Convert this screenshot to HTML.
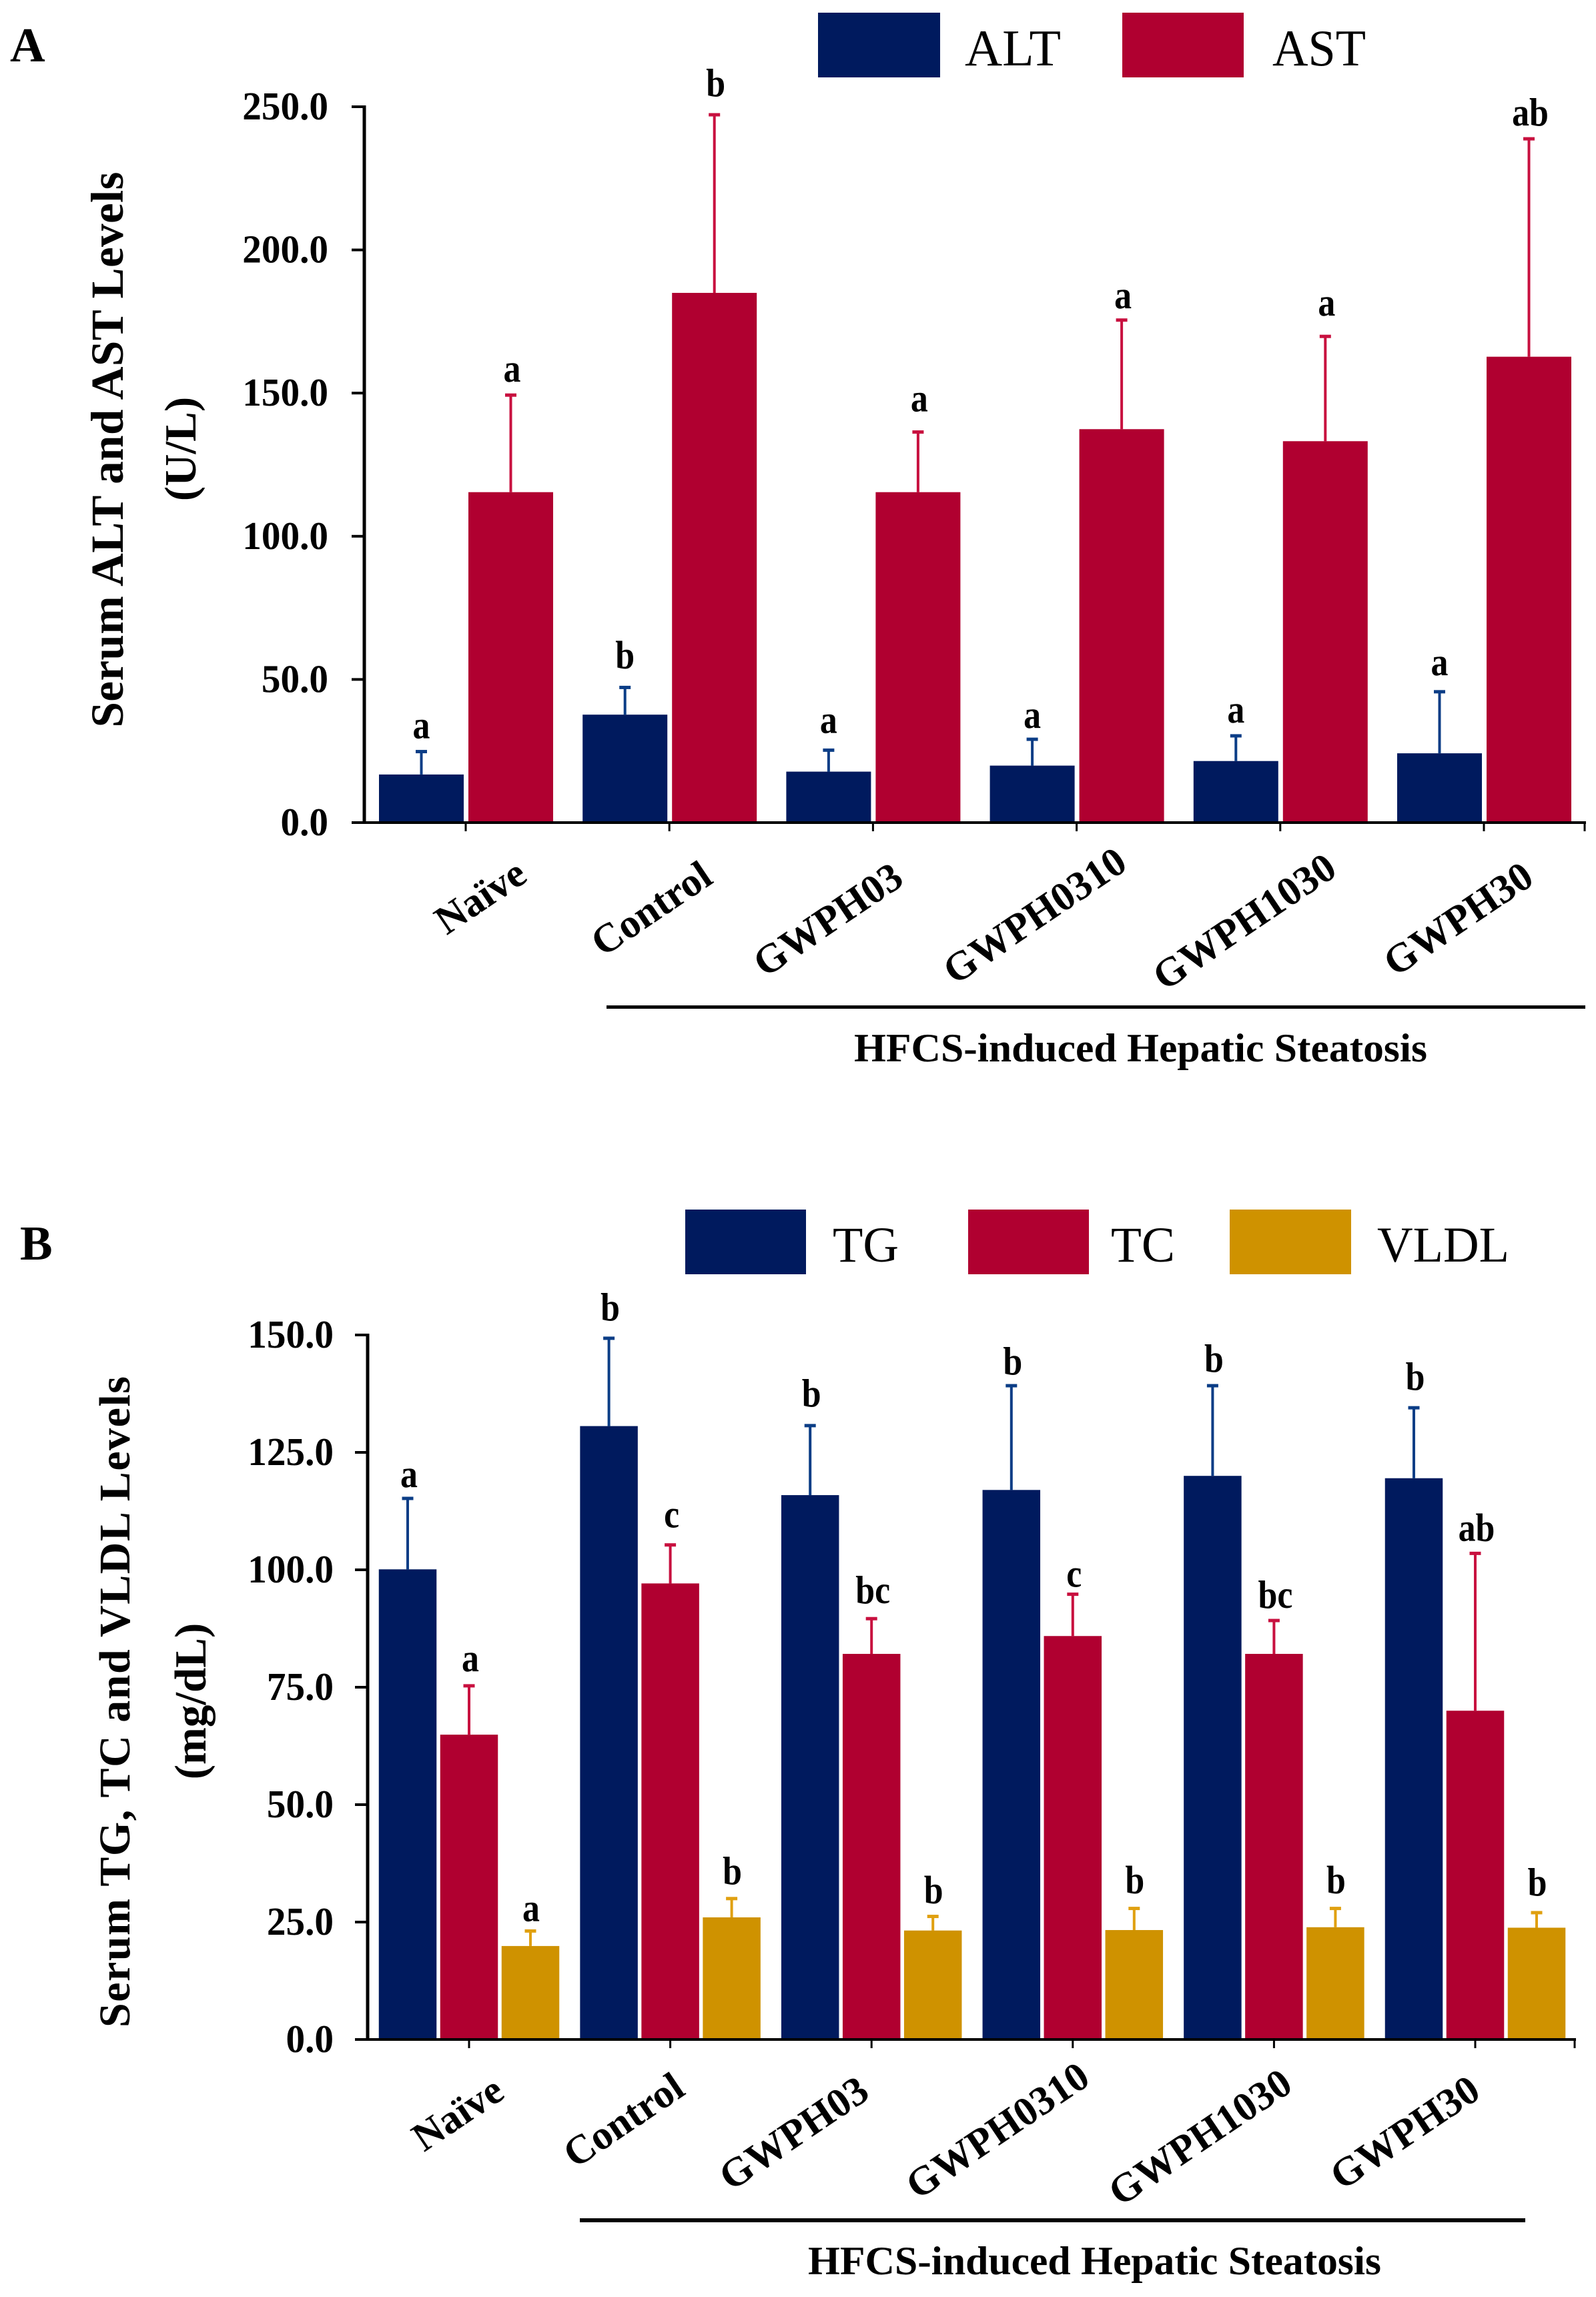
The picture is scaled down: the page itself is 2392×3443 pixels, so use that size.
<!DOCTYPE html>
<html lang="en">
<head>
<meta charset="utf-8">
<title>Serum biomarker bar charts</title>
<style>
html,body{margin:0;padding:0;background:#fff;width:2392px;height:3443px;overflow:hidden}
svg{display:block}
text{font-family:"Liberation Serif","DejaVu Serif",serif;fill:#000}
</style>
</head>
<body>
<svg id="figure" xmlns="http://www.w3.org/2000/svg" width="2392" height="3443" viewBox="0 0 2392 3443">
  <rect x="0" y="0" width="2392" height="3443" fill="#ffffff"/>
  <g id="panel-a">
    <text x="15" y="92" font-size="73" font-weight="700">A</text>
    <rect x="1226" y="19" width="183" height="97" fill="#001a5e"/>
    <text x="1446" y="98" font-size="77" textLength="144" lengthAdjust="spacingAndGlyphs">ALT</text>
    <rect x="1682" y="19" width="182" height="97" fill="#b00030"/>
    <text x="1907" y="98" font-size="77" textLength="140" lengthAdjust="spacingAndGlyphs">AST</text>
    <text transform="translate(184,674) rotate(-90)" text-anchor="middle" font-size="69" font-weight="700" textLength="833" lengthAdjust="spacing">Serum ALT and AST Levels</text>
    <text transform="translate(293,673) rotate(-90)" text-anchor="middle" font-size="67" font-weight="700">(U/L)</text>
    <rect x="909" y="1507" width="1467" height="5" fill="#000"/>
    <text x="1280" y="1591" font-size="60" font-weight="700" textLength="859" lengthAdjust="spacingAndGlyphs">HFCS-induced Hepatic Steatosis</text>
  </g>
  <g id="panel-b">
    <text x="30" y="1888" font-size="73" font-weight="700">B</text>
    <rect x="1027" y="1813" width="181" height="97" fill="#001a5e"/>
    <text x="1248" y="1891" font-size="75" textLength="99" lengthAdjust="spacingAndGlyphs">TG</text>
    <rect x="1451" y="1813" width="181" height="97" fill="#b00030"/>
    <text x="1665" y="1891" font-size="75" textLength="96" lengthAdjust="spacingAndGlyphs">TC</text>
    <rect x="1843" y="1813" width="182" height="97" fill="#cf9200"/>
    <text x="2064" y="1891" font-size="75" textLength="198" lengthAdjust="spacingAndGlyphs">VLDL</text>
    <text transform="translate(194,2551) rotate(-90)" text-anchor="middle" font-size="66" font-weight="700" textLength="976" lengthAdjust="spacing">Serum TG, TC and VLDL Levels</text>
    <text transform="translate(308,2550) rotate(-90)" text-anchor="middle" font-size="67" font-weight="700">(mg/dL)</text>
    <rect x="869" y="3325" width="1417" height="6" fill="#000"/>
    <text x="1211" y="3409" font-size="60" font-weight="700" textLength="859" lengthAdjust="spacingAndGlyphs">HFCS-induced Hepatic Steatosis</text>
  </g>
</svg>
<script>
const categories = ["Naïve", "Control", "GWPH03", "GWPH0310", "GWPH1030", "GWPH30"];

const ticksA = [0, 50, 100, 150, 200, 250];
const altValues = [16.8, 37.7, 17.8, 19.9, 21.5, 24.2];
const altErrors = [8.0, 9.5, 7.5, 9.2, 8.8, 21.5];
const altLetters = ["a", "b", "a", "a", "a", "a"];
const astValues = [115.4, 185.0, 115.4, 137.4, 133.2, 162.7];
const astErrors = [33.9, 62.2, 21.0, 38.1, 36.6, 76.1];
const astLetters = ["a", "b", "a", "a", "a", "ab"];

const ticksB = [0, 25, 50, 75, 100, 125, 150];
const tgValues = [100.1, 130.6, 115.9, 117.0, 120.0, 119.5];
const tgErrors = [15.1, 18.7, 14.8, 22.2, 19.2, 15.0];
const tgLetters = ["a", "b", "b", "b", "b", "b"];
const tcValues = [64.9, 97.1, 82.1, 85.9, 82.1, 70.0];
const tcErrors = [10.4, 8.2, 7.5, 8.9, 7.1, 33.5];
const tcLetters = ["a", "c", "bc", "c", "bc", "ab"];
const vldlValues = [19.9, 26.0, 23.2, 23.3, 23.9, 23.8];
const vldlErrors = [3.2, 4.0, 3.0, 4.6, 4.0, 3.2];
const vldlLetters = ["a", "b", "b", "b", "b", "b"];

const SVG_NS = "http://www.w3.org/2000/svg";

function make(parent, tag, attrs, content) {
  const el = document.createElementNS(SVG_NS, tag);
  for (const key in attrs) el.setAttribute(key, attrs[key]);
  if (content !== undefined) el.textContent = content;
  parent.appendChild(el);
  return el;
}

function drawPanel(cfg) {
  const root = document.getElementById(cfg.id);
  const yScale = function (v) { return cfg.y0 - (v / cfg.yMax) * (cfg.y0 - cfg.yTop); };
  const xScale = function (i) { return cfg.x0 + cfg.step * i; };

  cfg.series.forEach(function (s, si) {
    categories.forEach(function (cat, i) {
      const cx = xScale(i) + s.offset;
      const top = yScale(s.values[i]);
      const tip = yScale(s.values[i] + s.errors[i]);
      const slug = cat.toLowerCase().replace("ï", "i");

      const stem = make(root, "rect", { x: cx - 2, y: tip, width: 4, height: top - tip, fill: s.errColor });
      
      

      const cap = make(root, "rect", { x: cx - 8.5, y: tip - 2.5, width: 17, height: 5, fill: s.errColor });
      
      

      const bar = make(root, "rect", { x: cx - cfg.barWidth / 2, y: top, width: cfg.barWidth, height: cfg.y0 - top, fill: s.color });
      
      

      const letter = make(root, "text", {
        transform: "translate(" + (cx + s.letterShift) + "," + (tip - s.gaps[i]) + ") scale(0.88,1)",
        "text-anchor": "middle", "font-size": 59, "font-weight": 700
      }, s.letters[i]);
      
      
    });
  });

  const yAxis = make(root, "rect", { x: cfg.axisX - 2.5, y: cfg.yTop - 2, width: 5, height: cfg.y0 - cfg.yTop + 4, fill: "#000" });
  
  

  const xAxis = make(root, "rect", { x: cfg.axisX - 19, y: cfg.y0 - 2, width: cfg.axisEnd - cfg.axisX + 21, height: 4, fill: "#000" });
  
  

  cfg.ticks.forEach(function (t) {
    const y = yScale(t);
    const tick = make(root, "rect", { x: cfg.axisX - 19, y: y - 2, width: 19, height: 4, fill: "#000" });
    
    

    const label = make(root, "text", {
      transform: "translate(" + cfg.labelRight + "," + (y + 19) + ") scale(0.97,1)",
      "text-anchor": "end", "font-size": 59, "font-weight": 700
    }, t.toFixed(1));
    
    
  });

  categories.forEach(function (cat, i) {
    const x = xScale(i);
    const tick = make(root, "rect", { x: x - 1.5, y: cfg.y0, width: 3, height: 13, fill: "#000" });
    
    

    const label = make(root, "text", {
      transform: "translate(" + (x + cfg.labelNudgeX[i]) + "," + cfg.labelY[i] + ") rotate(-34)",
      "text-anchor": "end", "font-size": 61, "font-weight": 700
    }, cat);
    
    
  });

  const endTick = make(root, "rect", { x: cfg.axisEnd - 1.5, y: cfg.y0, width: 3, height: 13, fill: "#000" });
  
  
}

drawPanel({
  id: "panel-a", y0: 1233, yTop: 160, yMax: 250, x0: 698, step: 305.2, barWidth: 127,
  axisX: 546, axisEnd: 2375, labelRight: 492, ticks: ticksA,
  labelNudgeX: [95, 68, 49, 79, 88, 78],
  labelY: [1319, 1322, 1324, 1301, 1310, 1323],
  series: [
    { key: "alt", offset: -66.5, letterShift: 0, color: "#001a5e", errColor: "#0b3d86", values: altValues, errors: altErrors, letters: altLetters, gaps: [20, 29, 26, 17, 20, 25] },
    { key: "ast", offset: 67.5, letterShift: 2, color: "#b00030", errColor: "#c8103f", values: astValues, errors: astErrors, letters: astLetters, gaps: [20, 28, 31, 18, 31, 20] }
  ]
});

drawPanel({
  id: "panel-b", y0: 3057, yTop: 2001, yMax: 150, x0: 703, step: 301.6, barWidth: 86.5,
  axisX: 551, axisEnd: 2360, labelRight: 500, ticks: ticksB,
  labelNudgeX: [56, 25, 0, 29, 31, 11],
  labelY: [3143, 3138, 3143, 3122, 3132, 3142],
  series: [
    { key: "tg", offset: -92, letterShift: 2, color: "#001a5e", errColor: "#0b3d86", values: tgValues, errors: tgErrors, letters: tgLetters, gaps: [17, 27, 29, 17, 21, 27] },
    { key: "tc", offset: 0, letterShift: 2, color: "#b00030", errColor: "#c8103f", values: tcValues, errors: tcErrors, letters: tcLetters, gaps: [22, 26, 23, 11, 19, 19] },
    { key: "vldl", offset: 92, letterShift: 1, color: "#cf9200", errColor: "#e0a010", values: vldlValues, errors: vldlErrors, letters: vldlLetters, gaps: [15, 22, 20, 23, 23, 26] }
  ]
});
</script>
</body>
</html>
